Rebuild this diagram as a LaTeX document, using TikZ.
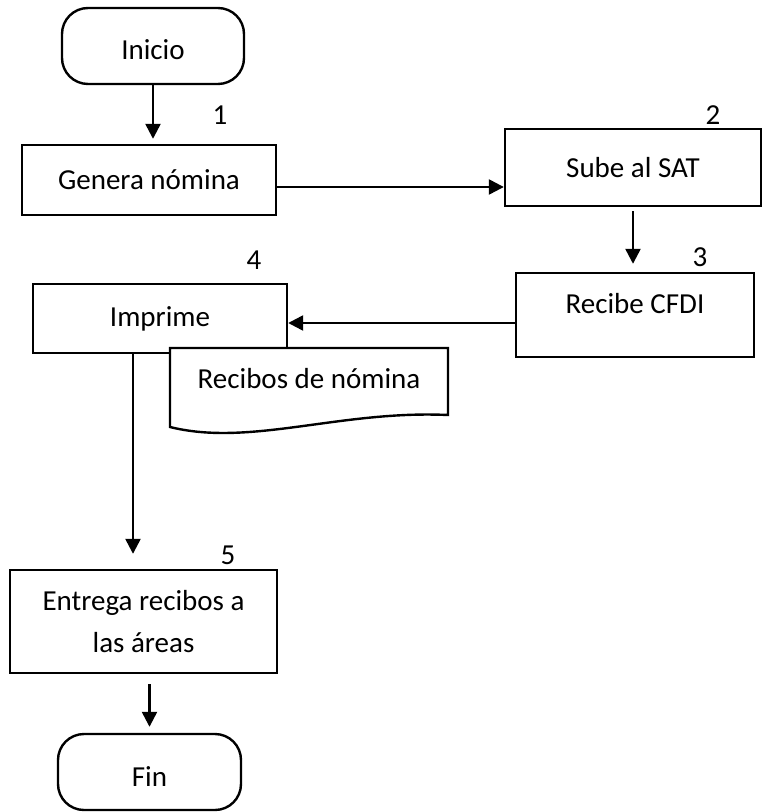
\documentclass[tikz,border=0pt]{standalone}
\usepackage{fontspec}
\setmainfont{Carlito}
\usetikzlibrary{arrows.meta,positioning,calc}

\begin{document}
\begin{tikzpicture}[x=0.5pt, y=-0.5pt,
    >={Triangle[length=7.5pt,width=7.5pt]},
    font=\fontsize{14.5}{21}\selectfont,
    terminal/.style={draw, line width=1.2pt, rounded corners=13pt, minimum width=91pt, minimum height=38pt, inner sep=0pt, text height=14pt, text depth=0pt},
    process/.style={draw, line width=1.2pt, align=center, inner sep=0pt},
    flow/.style={->, line width=1.2pt}]
    \useasboundingbox (0,0) rectangle (763,812);

    \node[terminal] (inicio) at (153,46) {Inicio};
    \node[process, minimum width=127pt, minimum height=35pt] (genera) at (149,180) {Genera nómina};
    \node[process, minimum width=128pt, minimum height=38.5pt] (sube) at (633,167.5) {Sube al SAT};
    \node[process, minimum width=119pt, minimum height=42pt, text depth=12pt] (recibe) at (635,315) {Recibe CFDI};
    \node[process, minimum width=127pt, minimum height=34.5pt] (imprime) at (160,318.5) {Imprime};

    % documento impreso
    \draw[line width=1.2pt, fill=white] (170,348) -- (448,348) -- (448,415)
        .. controls (340,410) and (250,447) .. (170,427) -- cycle;
    \node (recibos) at (309,379) {Recibos de nómina};

    \node[process, minimum width=133.5pt, minimum height=51.5pt] (entrega) at (143.5,621.5) {Entrega recibos a\\las áreas};
    \node[terminal, minimum width=91.5pt] (fin) at (149.5,772) {Fin};

    % numeros de paso
    \node (num1) at (220,115) {1};
    \node (num2) at (713,115) {2};
    \node (num3) at (700,257) {3};
    \node (num4) at (254,260) {4};
    \node (num5) at (228,555) {5};

    \draw[flow, shorten >=2.5pt] (inicio.south) -- (inicio.south |- genera.north);
    \draw[flow] ([yshift=-3.5pt]genera.east) -- ([yshift=-3.5pt]genera.east -| sube.west);
    \draw[flow, shorten <=2pt, shorten >=4pt] (sube.south) -- (sube.south |- recibe.north);
    \draw[flow] ([yshift=-4pt]recibe.west) -- ([yshift=-4pt]recibe.west -| imprime.east);
    \draw[flow, shorten >=7.5pt] ([xshift=-13.5pt]imprime.south) -- ([xshift=-13.5pt]imprime.south |- entrega.north);
    \draw[flow, shorten <=5pt, shorten >=3pt] (entrega.south -| fin.north) -- (fin.north);
\end{tikzpicture}
\end{document}
